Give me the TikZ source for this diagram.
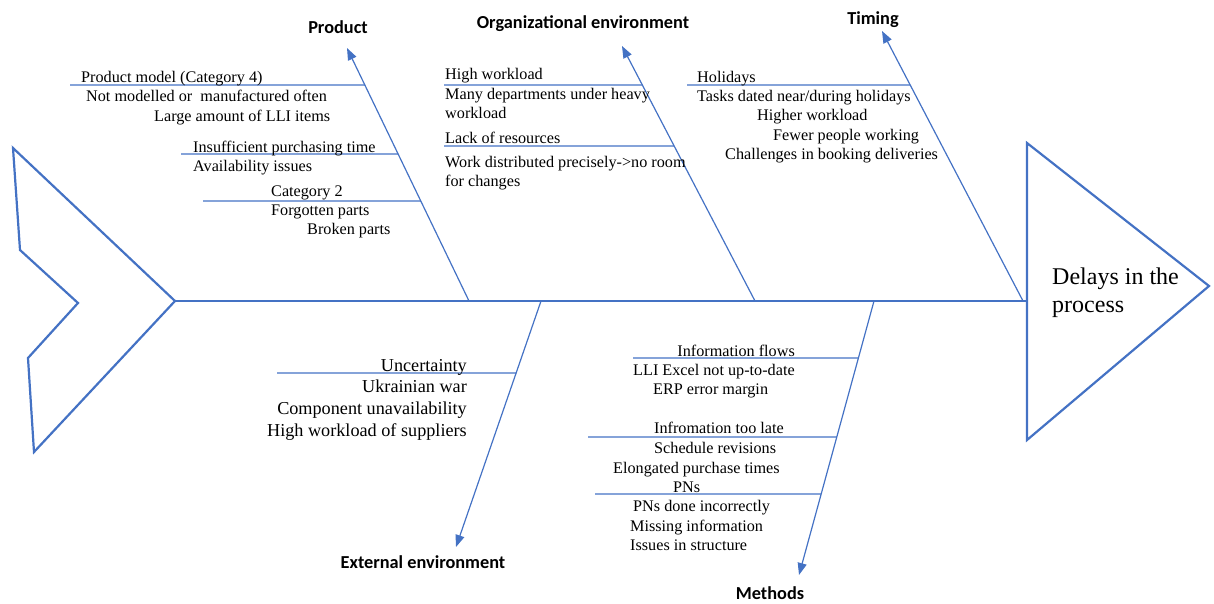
\documentclass[tikz,border=0pt]{standalone}
\usepackage{fontspec}
\setmainfont{Liberation Serif}
\newfontfamily\headfont{Carlito}
\usetikzlibrary{arrows.meta,calc}
\definecolor{bone}{HTML}{4472C4}
\begin{document}
\begin{tikzpicture}[x=1pt,y=-1pt,
  boneline/.style={draw=bone, line width=1.2pt},
  outline/.style={draw=bone, line width=2.2pt, line join=miter},
  causearrow/.style={boneline, -{Triangle[length=12pt,width=9pt]}},
  item/.style={inner sep=0pt, anchor=base west, font=\fontsize{16.2}{19}\selectfont},
  itemr/.style={item, anchor=base east},
  bigitemr/.style={itemr, font=\fontsize{18.2}{21}\selectfont},
  cat/.style={inner sep=0pt, anchor=base, font=\headfont\bfseries\fontsize{18.3}{21}\selectfont}]
\useasboundingbox (0,0) rectangle (1214,603);

% tail of the fish
\draw[outline] (13,148) -- (20,250) -- (78,303) -- (28,358) -- (34,452) -- (175,301) -- cycle;

% head of the fish
\draw[outline] (1027,143) -- (1209,286) -- (1027,440) -- cycle;
\node[inner sep=0pt, anchor=base west, align=left, font=\fontsize{24}{28}\selectfont] (effect) at (1052,312) {Delays in the\\process};

% spine
\coordinate (tail) at (175,301);
\coordinate (head) at (1027,301);
\draw[boneline] (tail) -- (head);

% points where the main bones meet the spine
\coordinate (sP) at (469,301);
\coordinate (sO) at (755,301);
\coordinate (sT) at (1023,301);
\coordinate (sE) at (541,301);
\coordinate (sM) at (874,301);

% category labels
\node[cat] (product) at (338,33) {Product};
\node[cat] (org) at (583,28) {Organizational environment};
\node[cat] (timing) at (873,24) {Timing};
\node[cat] (external) at (423,568) {External environment};
\node[cat] (methods) at (770,599) {Methods};

% arrow tips of the main bones
\coordinate (tP) at (347,48);
\coordinate (tO) at (622,46);
\coordinate (tT) at (882,31);
\coordinate (tE) at (456,547);
\coordinate (tM) at (799,575);

\draw[causearrow] (sP) -- (tP);
\draw[causearrow] (sO) -- (tO);
\draw[causearrow] (sT) -- (tT);
\draw[causearrow] (sE) -- (tE);
\draw[causearrow] (sM) -- (tM);

% ---------- Product ----------
\coordinate (p1a) at (70,85);  \coordinate (p1b) at ($(sP)!{216/253}!(tP)$);
\coordinate (p2a) at (181,154); \coordinate (p2b) at ($(sP)!{147/253}!(tP)$);
\coordinate (p3a) at (203,201); \coordinate (p3b) at ($(sP)!{100/253}!(tP)$);
\draw[boneline] (p1a) -- (p1b);
\draw[boneline] (p2a) -- (p2b);
\draw[boneline] (p3a) -- (p3b);
\node[item] (p1) at (81,82) {Product model (Category 4)};
\node[item] (p1i) at (86,101) {Not modelled or\ \ manufactured often};
\node[item] (p1j) at (154,121) {Large amount of LLI items};
\node[item] (p2) at (193,152) {Insufficient purchasing time};
\node[item] (p2i) at (193,171) {Availability issues};
\node[item] (p3) at (271,196) {Category 2};
\node[item] (p3i) at (271,215) {Forgotten parts};
\node[item] (p3j) at (307,234) {Broken parts};

% ---------- Organizational environment ----------
\coordinate (o1a) at (444,85);  \coordinate (o1b) at ($(sO)!{216/255}!(tO)$);
\coordinate (o2a) at (444,146); \coordinate (o2b) at ($(sO)!{155/255}!(tO)$);
\draw[boneline] (o1a) -- (o1b);
\draw[boneline] (o2a) -- (o2b);
\node[item] (o1) at (445,79) {High workload};
\node[item] (o1i) at (445,99) {Many departments under heavy};
\node[item] (o1j) at (445,118) {workload};
\node[item] (o2) at (445,143) {Lack of resources};
\node[item] (o2i) at (445,167) {Work distributed precisely->no room};
\node[item] (o2j) at (445,186) {for changes};

% ---------- Timing ----------
\coordinate (t1a) at (687,85); \coordinate (t1b) at ($(sT)!{216/270}!(tT)$);
\draw[boneline] (t1a) -- (t1b);
\node[item] (t1) at (697,82) {Holidays};
\node[item] (t1i) at (697,101) {Tasks dated near/during holidays};
\node[item] (t1j) at (757,120) {Higher workload};
\node[item] (t1k) at (773,140) {Fewer people working};
\node[item] (t1l) at (725,159) {Challenges in booking deliveries};

% ---------- External environment ----------
\coordinate (e1a) at (277,373); \coordinate (e1b) at ($(sE)!{72/246}!(tE)$);
\draw[boneline] (e1a) -- (e1b);
\node[bigitemr] (e1) at (467,371) {Uncertainty};
\node[bigitemr] (e1i) at (467,392) {Ukrainian war};
\node[bigitemr] (e1j) at (467,414) {Component unavailability};
\node[bigitemr] (e1k) at (467,436) {High workload of suppliers};

% ---------- Methods ----------
\coordinate (m1a) at (633,358); \coordinate (m1b) at ($(sM)!{57/274}!(tM)$);
\coordinate (m2a) at (588,437); \coordinate (m2b) at ($(sM)!{136/274}!(tM)$);
\coordinate (m3a) at (595,494); \coordinate (m3b) at ($(sM)!{193/274}!(tM)$);
\draw[boneline] (m1a) -- (m1b);
\draw[boneline] (m2a) -- (m2b);
\draw[boneline] (m3a) -- (m3b);
\node[itemr] (m1) at (795,356) {Information flows};
\node[item] (m1i) at (633,375) {LLI Excel not up-to-date};
\node[item] (m1j) at (653,394) {ERP error margin};
\node[item] (m2) at (654,433) {Infromation too late};
\node[item] (m2i) at (654,453) {Schedule revisions};
\node[item] (m2j) at (613,473) {Elongated purchase times};
\node[item] (m2k) at (673,492) {PNs};
\node[item] (m3i) at (633,511) {PNs done incorrectly};
\node[item] (m3j) at (630,531) {Missing information};
\node[item] (m3k) at (630,550) {Issues in structure};
\end{tikzpicture}
\end{document}
